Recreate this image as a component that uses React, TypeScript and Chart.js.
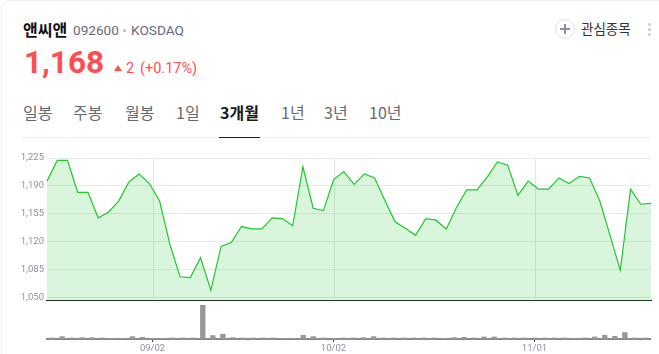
import React, { useEffect, useRef } from "react";
import { Chart, registerables } from "chart.js";

Chart.register(...registerables);

const prices = [
  1196, 1222, 1222, 1182, 1182, 1150, 1157, 1171, 1195, 1205,
  1193, 1171, 1117, 1076, 1075, 1100, 1059, 1114, 1119, 1139,
  1136, 1136, 1150, 1149, 1140, 1214, 1162, 1159, 1198, 1208,
  1192, 1205, 1200, 1172, 1145, 1137, 1128, 1149, 1147, 1136,
  1163, 1185, 1185, 1201, 1220, 1216, 1178, 1196, 1186, 1186,
  1200, 1193, 1202, 1200, 1171, 1128, 1084, 1186, 1167, 1168,
];
const volumes = [
  4, 8, 4, 5, 5, 4, 3, 3, 8, 6,
  3, 3, 4, 4, 4, 100, 11, 15, 5, 4,
  4, 4, 4, 3, 3, 12, 8, 4, 3, 4,
  4, 5, 8, 4, 4, 4, 4, 4, 4, 3,
  5, 6, 4, 7, 7, 4, 4, 4, 4, 4,
  4, 4, 3, 4, 7, 12, 9, 20, 4, 4,
];
const dateLabels = Array.from({ length: 60 }, () => "");
dateLabels[10] = "09/02";
dateLabels[28] = "10/02";
dateLabels[48] = "11/01";
const priceTicks = [1050, 1085, 1120, 1155, 1190, 1225];
const priceMin = 1045.6;
const periodTabs: [string, number, boolean][] = [
  ["일봉", 23, false], ["주봉", 73, false], ["월봉", 125, false], ["1일", 176, false],
  ["3개월", 220, true], ["1년", 281, false], ["3년", 324, false], ["10년", 369, false],
];

const FONT = '"Noto Sans CJK KR", "Noto Sans", sans-serif';
const LATIN = 'Roboto, "Noto Sans CJK KR", sans-serif';

const abs = (s: React.CSSProperties): React.CSSProperties => ({ position: "absolute", whiteSpace: "nowrap", ...s });

export default function App() {
  const priceRef = useRef<HTMLCanvasElement>(null);
  const volRef = useRef<HTMLCanvasElement>(null);

  useEffect(() => {
    const prev = document.body.style.margin;
    document.body.style.margin = "0";
    const idx = dateLabels.map((_, i) => i);
    const dateGrid = {
      id: "dateGrid",
      beforeDatasetsDraw(c: any) {
        const { ctx, scales } = c;
        ctx.save();
        ctx.strokeStyle = "#e4e4e4";
        ctx.lineWidth = 1;
        dateLabels.forEach((d, i) => {
          if (!d) return;
          const px = Math.round(scales.band.getPixelForValue(i)) + 0.5;
          ctx.beginPath();
          ctx.moveTo(px, scales.y.top);
          ctx.lineTo(px, scales.y.getPixelForValue(priceTicks[0]));
          ctx.stroke();
        });
        ctx.restore();
      },
    };
    const price = new Chart(priceRef.current!, {
      type: "line",
      plugins: [dateGrid],
      data: {
        labels: idx,
        datasets: [{
          data: prices,
          xAxisID: "x",
          yAxisID: "y",
          borderColor: "#1fc82d",
          borderWidth: 1.2,
          backgroundColor: "rgba(45,200,55,0.18)",
          fill: "start",
          pointRadius: 0,
          tension: 0,
        }],
      },
      options: {
        responsive: false,
        animation: false,
        events: [],
        layout: { autoPadding: false, padding: { top: 18, right: 8, bottom: 0, left: 0 } },
        plugins: { legend: { display: false }, tooltip: { enabled: false } },
        scales: {
          x: {
            type: "category",
            offset: false,
            grid: { display: false, drawTicks: false },
            border: { display: true, color: "#1c1c1c", width: 1.5 },
            ticks: { display: false },
            afterFit: (s: any) => { s.height = 0; },
          },
          band: {
            type: "category",
            axis: "x",
            position: "bottom",
            display: false,
            offset: true,
            labels: idx as any,
          },
          y: {
            min: priceMin,
            max: priceTicks[priceTicks.length - 1],
            afterBuildTicks: (s: any) => { s.ticks = priceTicks.map((value) => ({ value })); },
            afterFit: (s: any) => { s.width = 47; s.paddingTop = 0; s.paddingBottom = 0; },
            grid: { color: "#e8e8e8", lineWidth: 1, drawTicks: false },
            border: { display: false },
            ticks: {
              color: "#8f919c",
              padding: 3,
              font: { family: LATIN, size: 9.5 },
              callback: (v: any) => Number(v).toLocaleString("en-US"),
            },
          },
        },
      } as any,
    });
    const vol = new Chart(volRef.current!, {
      type: "bar",
      data: {
        labels: dateLabels,
        datasets: [{
          data: volumes,
          backgroundColor: "#979797",
          categoryPercentage: 1,
          barPercentage: 0.53,
        }],
      },
      options: {
        responsive: false,
        animation: false,
        events: [],
        layout: { autoPadding: false, padding: { top: 5, right: 9, bottom: 0, left: 47 } },
        plugins: { legend: { display: false }, tooltip: { enabled: false } },
        scales: {
          x: {
            offset: true,
            grid: {
              offset: false,
              drawOnChartArea: false,
              tickLength: 3,
              tickColor: (c: any) => (dateLabels[c.index] ? "#444444" : "transparent"),
            },
            border: { display: true, color: "#8a8a8a", width: 2 },
            ticks: {
              autoSkip: false,
              maxRotation: 0,
              color: "#8f919c",
              padding: 1,
              font: { family: LATIN, size: 9.5 },
            },
            afterFit: (s: any) => { s.height = 15; },
          },
          y: { display: false, min: 0, max: 100 },
        },
      } as any,
    });
    return () => {
      price.destroy();
      vol.destroy();
      document.body.style.margin = prev;
    };
  }, []);

  return (
    <div style={{ position: "relative", width: 659, height: 354, overflow: "hidden", background: "#fff", fontFamily: FONT }}>
      <div style={abs({ left: 1, top: 0, width: 700, height: 400, border: "1px solid #eeeeee", borderRadius: 10 })} />
      <div style={abs({ left: 23, top: 18, fontSize: 16, lineHeight: "22px", fontWeight: 700, color: "#111" })}>앤씨앤</div>
      <div style={abs({ left: 73, top: 20, fontSize: 13.6, lineHeight: "20px", color: "#666a78", fontFamily: LATIN })}>092600</div>
      <div style={abs({ left: 123, top: 29, width: 3, height: 3, borderRadius: 2, background: "#b5b7c0" })} />
      <div style={abs({ left: 131, top: 20, fontSize: 13.7, lineHeight: "20px", color: "#666a78", fontFamily: LATIN })}>KOSDAQ</div>
      <div style={abs({ left: 24, top: 44, fontSize: 31.5, lineHeight: "38px", fontWeight: 700, color: "#ff4d50", fontFamily: LATIN })}>1,168</div>
      <div style={abs({ left: 114, top: 65, width: 0, height: 0, borderLeft: "4.5px solid transparent", borderRight: "4.5px solid transparent", borderBottom: "6px solid #ff4d50" })} />
      <div style={abs({ left: 126, top: 59, fontSize: 14.5, lineHeight: "20px", color: "#ff4d50", fontFamily: LATIN })}>2</div>
      <div style={abs({ left: 140, top: 59, fontSize: 14.5, lineHeight: "20px", color: "#ff4d50", fontFamily: LATIN })}>(+0.17%)</div>
      {periodTabs.map(([t, x, on]) => (
        <div key={t} style={abs({ left: x, top: 101, fontSize: 16, lineHeight: "22px", fontWeight: on ? 700 : 400, color: on ? "#1a1a1a" : "#666a70" })}>{t}</div>
      ))}
      <div style={abs({ left: 21, top: 137, width: 630, height: 1, background: "#eeeeee" })} />
      <div style={abs({ left: 219, top: 137, width: 41, height: 1, background: "#222" })} />
      <div style={abs({ left: 555, top: 19, width: 18, height: 18, border: "1px solid #dfe1e6", borderRadius: "50%" })} />
      <div style={abs({ left: 560, top: 28, width: 10, height: 2, background: "#8a8f9c" })} />
      <div style={abs({ left: 564, top: 24, width: 2, height: 10, background: "#8a8f9c" })} />
      <div style={abs({ left: 581, top: 18, fontSize: 13.5, lineHeight: "20px", color: "#333" })}>관심종목</div>
      {[24, 29, 34].map((y) => (
        <div key={y} style={abs({ left: 648, top: y - 1, width: 3, height: 3, borderRadius: 2, background: "#c8cad2" })} />
      ))}
      <canvas ref={priceRef} width={659} height={161} style={{ position: "absolute", left: 0, top: 140, width: 659, height: 161 }} />
      <canvas ref={volRef} width={659} height={54} style={{ position: "absolute", left: 0, top: 300, width: 659, height: 54 }} />
    </div>
  );
}
